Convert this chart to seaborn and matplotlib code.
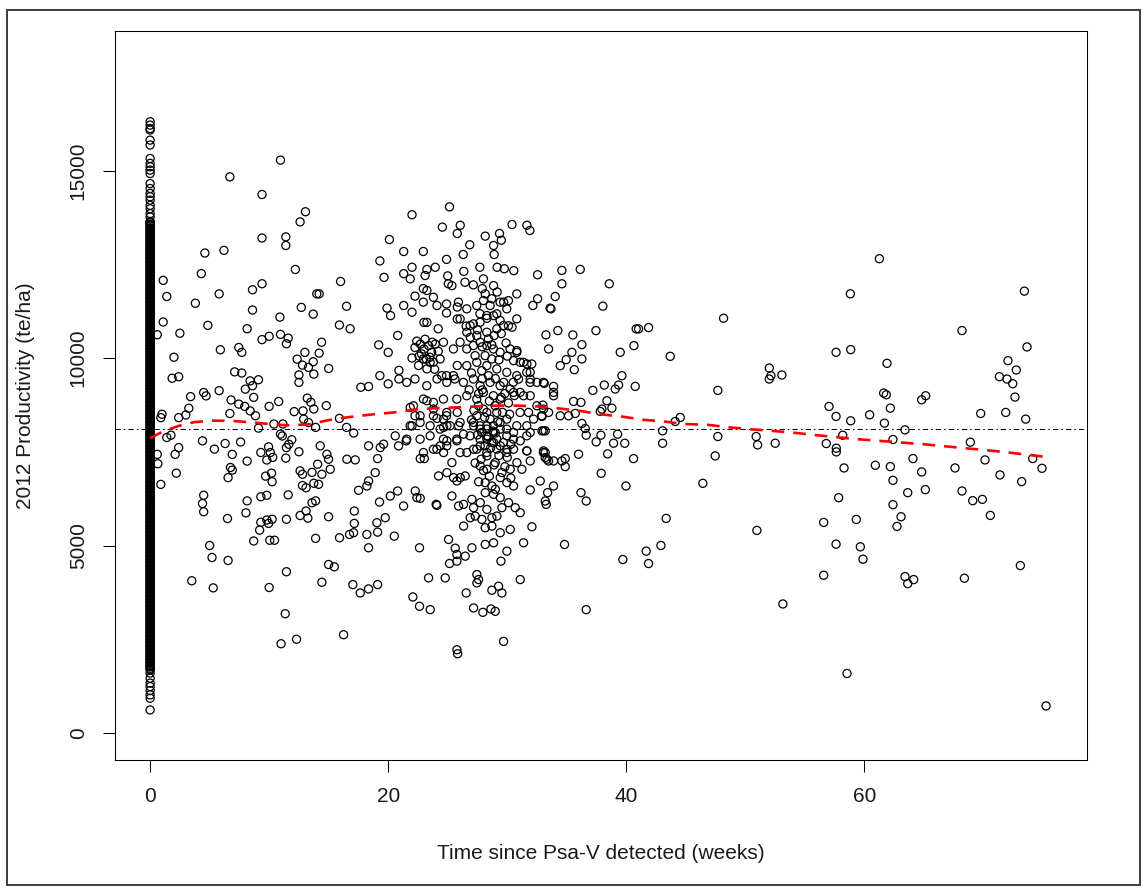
import pandas as pd
import matplotlib.pyplot as plt
from matplotlib.patches import Rectangle
import seaborn as sns

# orchards where Psa-V had just been detected (week 0) - a solid column in the plot
zero_week_prod = [
    615, 927, 1016, 1131, 1238, 1329, 1462, 1596,
    1680, 1725, 1768, 1814, 1857, 1903, 1946, 1990, 2037, 2081, 2124, 2170, 2213, 2259, 2302, 2348,
    2391, 2437, 2480, 2526, 2569, 2615, 2658, 2704, 2747, 2793, 2836, 2882, 2925, 2971, 3014, 3060,
    3103, 3149, 3192, 3238, 3281, 3327, 3370, 3416, 3459, 3505, 3548, 3594, 3637, 3683, 3726, 3772,
    3815, 3861, 3904, 3950, 3993, 4039, 4082, 4128, 4171, 4217, 4260, 4306, 4349, 4395, 4438, 4484,
    4527, 4573, 4616, 4662, 4705, 4751, 4794, 4840, 4883, 4929, 4972, 5018, 5061, 5107, 5150, 5196,
    5239, 5285, 5328, 5374, 5417, 5463, 5506, 5552, 5595, 5641, 5684, 5730, 5773, 5819, 5862, 5908,
    5951, 5997, 6040, 6086, 6129, 6175, 6218, 6264, 6307, 6353, 6396, 6442, 6485, 6531, 6574, 6620,
    6663, 6709, 6752, 6798, 6841, 6887, 6930, 6976, 7019, 7065, 7108, 7154, 7197, 7243, 7286, 7332,
    7375, 7421, 7464, 7510, 7553, 7599, 7642, 7688, 7731, 7777, 7820, 7866, 7909, 7955, 7998, 8044,
    8087, 8133, 8176, 8222, 8265, 8311, 8354, 8400, 8443, 8489, 8532, 8578, 8621, 8667, 8710, 8756,
    8799, 8845, 8888, 8934, 8977, 9023, 9066, 9112, 9155, 9201, 9244, 9290, 9333, 9379, 9422, 9468,
    9511, 9557, 9600, 9646, 9689, 9735, 9778, 9824, 9867, 9913, 9956, 10002, 10045, 10091, 10134,
    10180, 10223, 10269, 10312, 10358, 10401, 10447, 10490, 10536, 10579, 10625, 10668, 10714, 10757,
    10803, 10846, 10892, 10935, 10981, 11024, 11070, 11113, 11159, 11202, 11248, 11291, 11337, 11380,
    11426, 11469, 11515, 11558, 11604, 11647, 11693, 11736, 11782, 11825, 11871, 11914, 11960, 12003,
    12049, 12092, 12138, 12181, 12227, 12270, 12316, 12359, 12405, 12448, 12494, 12537, 12583, 12626,
    12672, 12715, 12761, 12804, 12850, 12893, 12939, 12982, 13028, 13071, 13117, 13160, 13206, 13249,
    13295, 13338, 13384, 13427, 13473, 13516, 13562, 13605, 13640,
    1702, 1790, 1880, 1968, 2059, 2146, 2236, 2325, 2414, 2503, 2592, 2681, 2770, 2859, 2948, 3037,
    3126, 3215, 3304, 3393, 3482, 3571, 3660, 3749, 3838, 3927, 4016, 4105, 4194, 4283, 4372, 4461,
    4550, 4639, 4728, 4817, 4906, 4995, 5084, 5173, 5262, 5351, 5440, 5529, 5618, 5707, 5796, 5885,
    5974, 6063, 6152, 6241, 6330, 6419, 6508, 6597, 6686, 6775, 6864, 6953, 7042, 7131, 7220, 7309,
    7398, 7487, 7576, 7665, 7754, 7843, 7932, 8021, 8110, 8199, 8288, 8377, 8466, 8555, 8644, 8733,
    8822, 8911, 9000, 9089, 9178, 9267, 9356, 9445, 9534, 9623, 9712, 9801, 9890, 9979, 10068, 10157,
    10246, 10335, 10424, 10513, 10602, 10691, 10780, 10869, 10958, 11047, 11136, 11225, 11314, 11403,
    11492, 11581, 11670, 11759, 11848, 11937, 12026, 12115, 12204, 12293, 12382, 12471, 12560, 12649,
    12738, 12827, 12916, 13005, 13094, 13183, 13272, 13361, 13450, 13539, 13620,
    13760, 13850, 13980, 14070, 14210, 14300, 14390, 14520, 14650, 14920, 15010, 15100, 15190, 15320,
    15680, 15810, 16080, 16120, 16210, 16300,
]

# (weeks, productivity) pairs
early_pts = [
    (10.95, 15277), (6.7, 14830), (9.4, 14360), (13.05, 13900), (12.6, 13630), (9.4, 13200),
    (11.4, 13230), (11.4, 13000), (4.6, 12800), (6.2, 12870), (12.2, 12360), (4.3, 12250),
    (1.1, 12070), (1.4, 11640), (9.4, 11980), (8.6, 11820), (5.8, 11710), (3.8, 11460),
    (14.0, 11710), (8.6, 11280), (12.7, 11350), (13.7, 11170), (1.1, 10960), (4.85, 10870),
    (10.9, 11090), (0.6, 10620), (2.5, 10660), (8.15, 10780), (9.4, 10490), (10.0, 10580),
    (10.95, 10630), (11.6, 10530), (11.45, 10380), (2.0, 10020), (5.9, 10220), (7.45, 10280),
    (7.7, 10150), (12.35, 9970), (13.0, 10150), (12.8, 9810), (13.3, 9750), (13.75, 9570),
    (1.85, 9460), (2.4, 9500), (7.1, 9630), (7.7, 9600), (8.4, 9390), (8.6, 9260), (9.1, 9420),
    (12.5, 9550), (12.5, 9350), (8.0, 9170), (3.4, 8970), (3.25, 8660), (4.5, 9080), (4.7, 8990),
    (5.8, 9130), (6.8, 8880), (7.45, 8770), (7.95, 8710), (8.4, 8590), (8.7, 8950), (10.0, 8710),
    (10.8, 8840), (12.1, 8570), (12.85, 8590), (13.2, 8930), (13.5, 8820), (13.75, 8640),
    (6.7, 8520), (1.0, 8500), (0.9, 8410), (2.4, 8410), (3.0, 8480), (8.85, 8460), (10.4, 8240),
    (11.15, 8240), (12.9, 8370), (13.3, 8280),
    (1.4, 7880), (1.75, 7940), (0.6, 7430), (0.65, 7180), (0.9, 6630), (2.1, 7430), (2.4, 7610),
    (2.2, 6930), (4.4, 7790), (5.4, 7570), (6.3, 7720), (6.9, 7430), (7.6, 7760), (6.75, 7080),
    (6.9, 7010), (6.55, 6810), (8.15, 7250), (9.1, 8130), (9.3, 7480), (9.8, 7280), (9.95, 7630),
    (10.1, 7480), (10.3, 7350), (11.4, 7330), (10.95, 7970), (11.1, 7920), (11.65, 7700),
    (11.45, 7610), (11.9, 7820), (12.5, 7500), (9.7, 6850), (10.2, 6930), (10.25, 6700),
    (12.6, 6990), (12.8, 6900), (12.8, 6600), (13.1, 6540), (13.6, 6950), (13.75, 6660),
    (13.9, 6190), (13.6, 6140), (4.5, 6340), (4.4, 6120), (4.5, 5900), (6.5, 5720), (8.15, 6190),
    (8.05, 5870), (9.3, 6300), (9.8, 6340), (9.3, 5620), (9.2, 5410), (9.8, 5680), (9.95, 5590),
    (10.25, 5700), (8.7, 5120), (10.05, 5140), (10.45, 5140), (11.45, 5700), (11.6, 6350),
    (12.6, 5800), (13.25, 5730), (13.1, 5920), (13.9, 5190), (5.0, 5000), (5.2, 4680),
    (6.55, 4600), (3.5, 4060), (5.3, 3870), (10.0, 3880), (11.45, 4300), (11.35, 3180),
    (11.0, 2380), (12.3, 2500),
    (20.1, 13160), (19.3, 12590), (19.65, 12150), (16.0, 12040), (14.2, 11710), (16.5, 11380),
    (15.9, 10880), (16.8, 10780), (19.9, 11330), (20.2, 11130), (20.8, 10600), (19.2, 10350),
    (20.0, 10150), (14.4, 10420), (14.2, 10130), (13.7, 9900), (15.0, 9720), (17.7, 9220),
    (18.35, 9240), (19.3, 9530), (20.0, 9310), (20.9, 9670), (20.9, 9440), (14.8, 8730),
    (15.9, 8390), (16.5, 8150), (17.1, 8000), (13.9, 8150),
    (14.29, 7657), (14.07, 7167), (14.85, 7434), (14.99, 7300), (15.13, 7033), (14.43, 6899),
    (14.15, 6632), (14.99, 5767), (16.53, 7300), (17.23, 7283), (18.35, 7657), (19.33, 7612),
    (19.61, 7702), (20.59, 7924), (20.87, 7657), (19.11, 7318), (18.91, 6944), (18.35, 6721),
    (18.21, 6587), (17.51, 6472), (20.17, 6320), (20.79, 6454), (19.27, 6160), (17.15, 5919),
    (17.15, 5589), (17.09, 5340), (18.21, 5295), (19.05, 5607), (19.75, 5741), (19.11, 5357),
    (20.51, 5250), (18.35, 4939), (16.75, 5295), (15.91, 5206), (14.99, 4493), (15.47, 4431),
    (14.43, 4020), (17.03, 3958), (17.65, 3735), (18.35, 3842), (19.11, 3958), (16.25, 2621),
]

mid_pts = [
    (22.0, 13820), (25.15, 14030), (24.55, 13490), (25.8, 13320), (26.05, 13540), (28.15, 13250),
    (29.35, 13320), (29.5, 13140), (28.85, 13000), (28.9, 12760), (30.4, 13560), (31.65, 13540),
    (31.9, 13400), (21.3, 12840), (22.95, 12840), (24.9, 12630), (26.85, 13020), (26.3, 12760),
    (21.3, 12250), (22.0, 12420), (21.85, 12110), (23.25, 12360), (23.95, 12420), (23.1, 12200),
    (25.0, 12190), (26.35, 12310), (27.7, 12420), (28.0, 12110), (29.15, 12420), (29.75, 12380),
    (30.55, 12330), (32.55, 12220), (21.3, 11400), (22.0, 11220), (22.25, 11650), (22.95, 11850),
    (23.25, 11800), (23.8, 11620), (22.95, 11490), (24.1, 11400), (24.9, 11440), (25.8, 11360),
    (25.05, 11980), (25.35, 11930), (26.45, 12020), (27.15, 11950), (27.9, 11850), (28.15, 11710),
    (28.85, 11930), (29.15, 11760), (28.7, 11580), (29.7, 11490), (30.1, 11530), (30.8, 11710),
    (32.15, 11400), (32.55, 11580), (33.6, 11330), (23.0, 10950), (23.25, 10950), (24.2, 10780),
    (24.9, 11200), (25.8, 11040), (26.55, 10850), (27.15, 10910), (27.7, 11180), (28.3, 11060),
    (28.85, 11130), (29.4, 11000), (30.1, 10860), (30.4, 10820), (22.25, 10280), (22.7, 10370),
    (23.0, 10240), (23.4, 10330), (23.65, 10150), (23.95, 10370), (22.8, 10110), (23.2, 9970),
    (22.55, 9800), (23.25, 9710), (22.25, 9440), (24.1, 9440), (24.5, 9530), (24.9, 9530),
    (25.6, 9440), (25.8, 9800), (23.8, 9890), (21.85, 8680), (22.25, 8460), (22.0, 8190),
    (23.25, 8860), (23.8, 8640), (24.1, 8390), (24.9, 8460), (25.8, 8550), (24.65, 8150),
    (30.81, 10197), (30.53, 9930), (31.09, 9885), (31.65, 9840), (31.93, 9618), (30.95, 9439),
    (31.93, 9439), (32.49, 9350), (30.53, 9083), (31.37, 8994), (31.93, 8994), (32.49, 8726),
    (33.05, 8637), (31.79, 8548), (32.21, 8370), (32.91, 8441), (33.47, 8548),
    (25.9, 11489), (26.6, 11311), (27.44, 11400), (28.0, 11533), (28.56, 11400), (29.4, 11489),
    (29.96, 11311), (29.12, 11177), (28.28, 11133), (27.72, 10954), (26.88, 10865), (26.04, 11043),
    (26.6, 10687), (27.44, 10598), (28.28, 10687), (29.12, 10776), (29.68, 10865), (30.8, 11043),
    (26.04, 10420), (26.6, 10241), (27.16, 10331), (27.72, 10420), (28.28, 10331), (28.84, 10241),
    (29.4, 10152), (30.24, 10241), (30.8, 10152), (31.36, 9885), (32.06, 9840), (26.6, 9796),
    (27.44, 9885), (28.28, 9796), (29.12, 9707), (29.96, 9618), (30.8, 9529), (31.64, 9618),
    (26.32, 9350), (27.16, 9440), (27.72, 9261), (28.56, 9350), (29.4, 9261), (30.24, 9172),
    (31.08, 9083), (31.92, 9350), (33.04, 9350), (28.0, 9083), (28.84, 8994), (29.4, 8905),
    (27.44, 8905), (26.6, 8994), (25.76, 8905), (27.44, 8459), (28.28, 8548), (29.12, 8548),
    (29.96, 8370), (31.08, 8548), (32.9, 8459), (27.16, 8281), (27.72, 8192), (28.28, 8103),
    (28.84, 8192), (29.4, 8281), (29.96, 8103), (30.8, 8192), (31.64, 8192), (33.04, 8058),
    (26.88, 7925), (27.72, 7836), (28.28, 7925), (29.12, 7836), (29.68, 7747), (30.52, 7836),
    (31.64, 7925), (27.44, 7568), (28.28, 7479), (29.12, 7568), (29.96, 7479), (31.64, 7524),
    (33.04, 7479), (28.0, 8637), (28.56, 8370), (27.86, 8014), (28.7, 7747), (28.14, 7658),
    (27.58, 8726), (28.98, 8726), (28.42, 9529), (27.86, 9662), (28.7, 9974), (28.14, 10063),
    (27.3, 10063), (28.42, 10509),
    (27.9, 9150), (28.5, 8850), (29.0, 9450), (28.1, 8420), (28.8, 8050), (29.3, 9950),
    (27.6, 9050), (28.6, 7600), (29.6, 8550), (27.9, 10300), (28.9, 10600), (29.8, 9050),
    (27.2, 8600), (30.1, 8800), (28.4, 7900), (29.3, 7400), (27.8, 7300), (28.9, 7150),
    (30.3, 7700), (29.9, 10400),
    (26.9, 10550), (27.5, 10750), (28.7, 10350), (29.5, 10650), (30.0, 10050), (27.0, 9600),
    (27.9, 9450), (29.7, 9350), (30.5, 9350), (26.8, 9150), (29.5, 8950), (30.6, 9000),
    (27.0, 8350), (29.2, 8300), (30.2, 8500), (27.5, 7950), (29.0, 8000), (30.0, 7350),
    (28.0, 7000), (29.8, 7100), (27.3, 7200), (28.5, 6850), (30.3, 6800), (29.0, 6500),
    (27.6, 6700),
    (22.4, 10450), (23.1, 10500), (23.7, 10420), (22.6, 10050), (23.5, 10020), (24.2, 10180),
    (22.0, 10000), (23.9, 9700),
    (22.96, 9974), (23.52, 9885), (24.36, 9974), (24.64, 10420), (25.48, 10241), (21.56, 9350),
    (23.24, 9261), (24.92, 9350), (25.48, 9529), (24.64, 8905), (23.8, 8816), (22.96, 8905),
    (22.12, 8726), (22.68, 8459), (23.8, 8459), (24.64, 8370), (24.92, 8548), (21.84, 8192),
    (22.68, 8281), (23.52, 8192), (24.36, 8103), (25.2, 8192), (26.04, 8281), (21.56, 7836),
    (22.68, 7836), (23.52, 7925), (24.64, 7836), (25.76, 7836), (22.96, 7479), (23.8, 7568),
    (24.92, 7658), (26.04, 7479),
    (21.29, 6053), (22.27, 6454), (22.41, 6276), (22.69, 6258), (24.09, 6070), (24.03, 6097),
    (24.23, 6855), (22.07, 3628), (22.63, 3379), (23.53, 3290), (23.39, 4136), (24.79, 4136),
    (22.63, 4939), (22.69, 7318), (23.03, 7318), (21.51, 7791), (24.93, 6944), (25.49, 6810),
    (25.77, 6721), (26.05, 6810), (26.47, 6855), (25.35, 6320), (25.91, 6053), (26.33, 6097),
    (27.03, 6231), (27.17, 6008), (27.73, 6142), (27.31, 5785), (26.89, 5741), (26.33, 5518),
    (25.07, 5161), (25.63, 4928), (25.77, 4760), (25.15, 4520), (25.77, 4582), (26.47, 4716),
    (27.03, 4939), (27.45, 4226), (27.45, 4003), (27.59, 4092), (26.55, 3735), (27.17, 3334),
    (27.95, 3218), (28.63, 3307), (28.99, 3245), (28.71, 3807), (29.27, 3914), (29.55, 3735),
    (31.09, 4092), (25.77, 2220), (25.83, 2113), (29.69, 2443), (28.15, 5028), (28.85, 5072),
    (29.41, 5340), (29.97, 4849), (30.25, 5429), (31.37, 5072), (32.07, 5500), (29.47, 4582),
    (27.73, 7122), (28.29, 7033), (28.99, 7211), (29.55, 6944), (30.25, 7033), (30.81, 7211),
    (31.23, 7033), (31.65, 7523), (31.93, 7256), (32.77, 6721), (33.19, 7479), (33.33, 7300),
    (28.15, 6677), (28.71, 6587), (29.41, 6810), (29.97, 6677), (30.53, 6587), (28.15, 6409),
    (28.85, 6365), (29.41, 6276), (30.11, 6142), (30.67, 6008), (31.09, 5874), (31.93, 6481),
    (33.19, 6186), (28.29, 5963), (28.71, 5741), (29.13, 5785), (29.55, 6008), (27.87, 5696),
    (28.15, 5473), (28.71, 5518),
    (27.17, 8192), (27.73, 8103), (28.29, 8192), (28.85, 8014), (29.41, 8103), (29.97, 7925),
    (30.53, 8014), (28.29, 7835), (28.85, 7746), (29.41, 7657), (29.97, 7568), (27.73, 7657),
    (26.61, 7479), (27.17, 7568), (28.29, 7390), (30.53, 7568), (31.09, 7791), (31.93, 8014),
    (24.09, 7568), (24.65, 7479), (25.35, 7211), (24.37, 7657), (24.93, 7791), (25.77, 7791),
    (26.33, 7969), (25.91, 8192), (24.93, 8192),
    (33.25, 10616), (33.67, 11311), (34.03, 11640), (33.11, 9323), (33.89, 9243), (33.89, 9083),
    (33.89, 8994), (32.99, 8744), (32.91, 8459), (32.91, 8058), (33.19, 8058), (33.05, 7523),
    (33.19, 7345), (33.47, 7255), (33.89, 7255), (33.89, 6587), (33.39, 6409), (33.27, 6097),
    (33.47, 10241),
]

late_pts = [
    (34.59, 12336), (36.13, 12362), (34.59, 11979), (38.57, 11979), (38.03, 11382), (48.17, 11061),
    (34.25, 10731), (35.51, 10615), (37.45, 10731), (36.27, 10357), (35.43, 10152), (34.95, 9956),
    (34.45, 9795), (36.27, 9974), (35.63, 9689), (39.49, 10152), (40.64, 10330), (40.83, 10776),
    (41.03, 10776), (41.87, 10811), (43.69, 10045), (47.69, 9136), (35.57, 8842), (36.19, 8816),
    (37.19, 9136), (38.15, 9279), (39.07, 9172), (39.35, 9279), (39.63, 9528), (40.75, 9243),
    (38.37, 8860), (38.79, 8664), (37.95, 8637), (37.81, 8575), (34.45, 8459), (35.15, 8459),
    (35.71, 8521), (44.11, 8307), (44.53, 8414), (36.27, 8254), (36.55, 8120), (36.63, 7942),
    (37.47, 7763), (37.87, 7942), (38.93, 7727), (39.27, 7968), (39.87, 7727), (43.05, 8058),
    (43.05, 7727), (47.69, 7906), (47.47, 7389), (34.59, 7255), (34.87, 7318), (34.87, 7104),
    (35.99, 7434), (38.43, 7443), (40.61, 7318), (37.89, 6926), (36.19, 6409), (36.63, 6186),
    (39.97, 6587), (46.43, 6658), (43.35, 5722), (34.81, 5027), (39.71, 4626), (41.67, 4849),
    (41.87, 4519), (42.91, 5000), (36.63, 3289),
]

last_pts = [
    (50.91, 7906), (51.03, 7683), (52.51, 7727), (50.97, 5402), (52.01, 9733), (52.01, 9439),
    (52.15, 9528), (53.07, 9546), (53.15, 3441), (61.26, 12648), (58.82, 11712), (73.44, 11783),
    (68.2, 10731), (73.66, 10295), (57.62, 10152), (58.85, 10223), (61.9, 9858), (72.06, 9929),
    (72.76, 9680), (71.34, 9501), (71.98, 9439), (72.46, 9314), (72.65, 8958), (61.62, 9065),
    (61.84, 9020), (64.81, 8886), (65.15, 8993), (57.03, 8708), (57.62, 8441), (58.85, 8325),
    (60.44, 8485), (62.18, 8663), (61.68, 8263), (69.77, 8521), (71.87, 8548), (73.55, 8370),
    (63.41, 8084), (58.18, 7941), (56.8, 7719), (57.64, 7594), (57.64, 7496), (62.4, 7826),
    (68.9, 7755), (64.08, 7318), (64.81, 6961), (67.61, 7068), (70.13, 7282), (74.14, 7318),
    (74.92, 7059), (58.29, 7068), (60.92, 7139), (62.18, 7104), (62.4, 6738), (63.64, 6409),
    (65.12, 6489), (68.2, 6453), (69.1, 6195), (69.91, 6230), (70.58, 5802), (71.39, 6881),
    (73.21, 6703), (57.84, 6275), (56.58, 5615), (59.32, 5695), (62.4, 6088), (63.08, 5767),
    (62.74, 5509), (57.62, 5036), (59.66, 4965), (59.88, 4635), (56.58, 4207), (63.41, 4171),
    (63.64, 3984), (64.14, 4091), (68.4, 4127), (73.1, 4465), (58.54, 1587), (75.26, 722),
]

# smoothed trend (red dashed) and overall mean (dot-dash)
curve_weeks = [0, 1.0, 2.4, 3.7, 5.3, 7.0, 8.7, 10.4, 11.8, 13.5, 15.4, 17.1, 18.8, 20.5, 22.1,
               23.8, 25.5, 27.5, 29.1, 30.8, 32.5, 34.2, 36.1, 37.8, 39.8, 41.5, 43.1, 44.8, 46.8,
               48.7, 50.4, 52.1, 54.3, 55.7, 59.4, 61.3, 65.0, 68.6, 71.4, 75.3]
curve_prod = [7860, 8030, 8190, 8290, 8330, 8320, 8280, 8230, 8200, 8240, 8370, 8440, 8500, 8550,
              8620, 8660, 8680, 8710, 8730, 8730, 8710, 8660, 8590, 8500, 8430, 8350, 8310, 8240,
              8220, 8150, 8100, 8060, 8000, 7950, 7835, 7790, 7700, 7590, 7505, 7360]
mean_prod = 8120

x_ticks = [0, 20, 40, 60]
y_ticks = [0, 5000, 10000, 15000]

pts = [(0, v) for v in zero_week_prod] + early_pts + mid_pts + late_pts + last_pts
df = pd.DataFrame(pts, columns=["weeks", "prod"])
trend = pd.DataFrame({"weeks": curve_weeks, "prod": curve_prod})

sns.set_style("white")
plt.rcParams["font.family"] = ["Liberation Sans", "DejaVu Sans"]

fig = plt.figure(figsize=(11.44, 8.89), dpi=100)
ax = fig.add_axes([115 / 1144, 1 - 760 / 889, 972 / 1144, 729 / 889])

sns.scatterplot(data=df, x="weeks", y="prod", ax=ax, s=34, marker="o",
                facecolors="none", edgecolor="black", linewidth=0.9, zorder=2)
ax.axhline(mean_prod, color="black", lw=0.75, dashes=(5, 3, 1.5, 3), zorder=3)
sns.lineplot(data=trend, x="weeks", y="prod", ax=ax, color="#ff0000", lw=1.9,
             dashes=False, zorder=4)
ax.lines[-1].set_dashes((4.8, 3.4))

ax.set_xlim(-2.95, 78.7)
ax.set_ylim(-720, 18720)
ax.set_xticks(x_ticks)
ax.set_yticks(y_ticks)
ax.set_yticklabels([str(t) for t in y_ticks], rotation=90, va="center")
ax.tick_params(axis="both", direction="out", length=8.6, width=0.75, color="black",
               labelsize=15, labelcolor="#1a1a1a", left=True, bottom=True)
ax.tick_params(axis="x", pad=11)
ax.tick_params(axis="y", pad=11)
for sp in ax.spines.values():
    sp.set_color("black")
    sp.set_linewidth(0.75)

ax.set_xlabel("Time since Psa-V detected (weeks)", fontsize=15, color="#1a1a1a")
ax.set_ylabel("2012 Productivity (te/ha)", fontsize=15, color="#1a1a1a")
ax.xaxis.set_label_coords(0.5, -0.128)
ax.xaxis.label.set_va("center")
ax.yaxis.set_label_coords(-0.0916, 0.5)
ax.yaxis.label.set_va("center")

fig.patches.append(Rectangle((7 / 1144, 4 / 889), 1133 / 1144, 875 / 889,
                             transform=fig.transFigure, fill=False,
                             edgecolor="#3c3c3c", lw=1.4))

fig.savefig("out.png", dpi=100)
